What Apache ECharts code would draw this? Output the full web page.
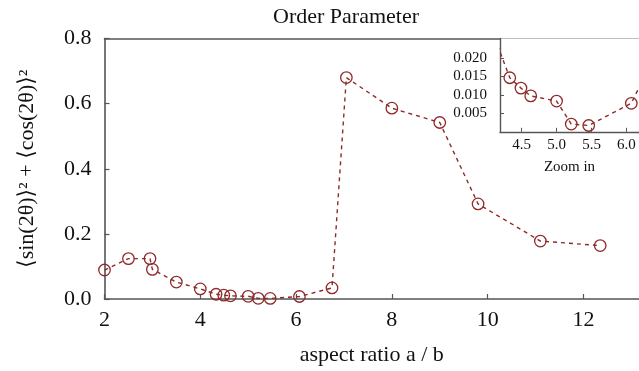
<!DOCTYPE html>
<html>
<head>
<meta charset="utf-8">
<script src="https://cdn.jsdelivr.net/npm/echarts@6/dist/echarts.min.js"></script>
<style>
html,body{margin:0;padding:0;background:#fff;}
#c{width:639px;height:371px;}
</style>
</head>
<body>
<div id="c"></div>
<script>
// Data
var aspectRatio = [2.0, 2.5, 2.95, 3.0, 3.5, 4.0, 4.33, 4.49, 4.63, 5.0, 5.21, 5.46, 6.07, 6.75, 7.05, 8.0, 9.0, 9.8, 11.1, 12.35];
var orderParam  = [0.089, 0.124, 0.124, 0.091, 0.052, 0.031, 0.0146, 0.0118, 0.0097, 0.0083, 0.0021, 0.0017, 0.0077, 0.034, 0.68, 0.586, 0.542, 0.292, 0.178, 0.164];
var mainXTicks = [2, 4, 6, 8, 10, 12];
var mainYTicks = [0, 0.2, 0.4, 0.6, 0.8];
var insetXTicks = [4.5, 5.0, 5.5, 6.0];
var insetYTicks = [0.005, 0.010, 0.015, 0.020];

var pts = aspectRatio.map(function (x, i) { return [x, orderParam[i]]; });

var FONT = '"Liberation Serif", "DejaVu Serif", serif';
var AXC = '#555555';
var RED = '#8e2a2a';

var chart = echarts.init(document.getElementById('c'), null, {renderer: 'canvas'});

var seriesStyle = {
  type: 'line',
  data: pts,
  symbol: 'circle',
  symbolSize: 11.5,
  itemStyle: {color: 'rgba(0,0,0,0)', borderColor: RED, borderWidth: 1.3},
  lineStyle: {color: RED, width: 1.4, type: [4, 4]},
  clip: true,
  animation: false,
  z: 3
};

var option = {
  animation: false,
  backgroundColor: '#ffffff',
  title: {
    text: 'Order Parameter',
    left: 268, top: 1,
    textStyle: {fontFamily: FONT, fontWeight: 'normal', fontSize: 22, color: '#111'}
  },
  grid: [
    {left: 104.5, top: 38.5, width: 535, height: 260.5},
    {left: 500, top: 38.5, width: 139, height: 93.3, backgroundColor: '#fff', show: true, borderWidth: 0, z: 5}
  ],
  xAxis: [
    {
      gridIndex: 0, type: 'value', min: 2, max: 13.16,
      axisLine: {show: true, lineStyle: {color: AXC, width: 1.6}},
      axisTick: {show: true, inside: true, length: 5, lineStyle: {color: AXC, width: 1.2}, customValues: mainXTicks},
      axisLabel: {fontFamily: FONT, fontSize: 22, color: '#111', margin: 10, customValues: mainXTicks},
      splitLine: {show: false},
      name: 'aspect ratio a / b', nameLocation: 'middle', nameGap: 45,
      nameTextStyle: {fontFamily: FONT, fontSize: 22, color: '#111'}
    },
    {
      gridIndex: 0, type: 'value', min: 2, max: 13.16, position: 'top',
      axisLine: {show: true, lineStyle: {color: AXC, width: 1.6}},
      axisTick: {show: false}, axisLabel: {show: false}, splitLine: {show: false}
    },
    {
      gridIndex: 1, type: 'value', min: 4.19, max: 6.18,
      axisLine: {show: true, lineStyle: {color: AXC, width: 1.4}},
      axisTick: {show: true, inside: true, length: 4, lineStyle: {color: AXC, width: 1}, customValues: insetXTicks},
      axisLabel: {fontFamily: FONT, fontSize: 15, color: '#111', margin: 6, customValues: insetXTicks,
        formatter: function (v) { return v.toFixed(1); }},
      splitLine: {show: false},
      name: 'Zoom in', nameLocation: 'middle', nameGap: 28,
      nameTextStyle: {fontFamily: FONT, fontSize: 15, color: '#111'},
      z: 6
    }
  ],
  yAxis: [
    {
      gridIndex: 0, type: 'value', min: 0, max: 0.8,
      axisLine: {show: true, lineStyle: {color: AXC, width: 1.6}},
      axisTick: {show: true, inside: true, length: 5, lineStyle: {color: AXC, width: 1.2}, customValues: mainYTicks},
      axisLabel: {fontFamily: FONT, fontSize: 22, color: '#111', margin: 13, customValues: mainYTicks,
        formatter: function (v) { return v.toFixed(1); }},
      splitLine: {show: false},
      name: '⟨sin(2θ)⟩² + ⟨cos(2θ)⟩²', nameLocation: 'middle', nameGap: 66,
      nameTextStyle: {fontFamily: FONT, fontSize: 22, color: '#111'}
    },
    {
      gridIndex: 1, type: 'value', min: 0, max: 0.0252,
      axisLine: {show: true, lineStyle: {color: AXC, width: 1.4}},
      axisTick: {show: true, inside: true, length: 4, lineStyle: {color: AXC, width: 1}, customValues: insetYTicks},
      axisLabel: {fontFamily: FONT, fontSize: 15, color: '#111', margin: 13, customValues: insetYTicks,
        formatter: function (v) { return v.toFixed(3); }},
      splitLine: {show: false},
      z: 6
    }
  ],
  series: [
    Object.assign({}, seriesStyle, {xAxisIndex: 0, yAxisIndex: 0}),
    Object.assign({}, seriesStyle, {xAxisIndex: 2, yAxisIndex: 1, z: 7})
  ]
};
chart.setOption(option);
</script>
</body>
</html>
